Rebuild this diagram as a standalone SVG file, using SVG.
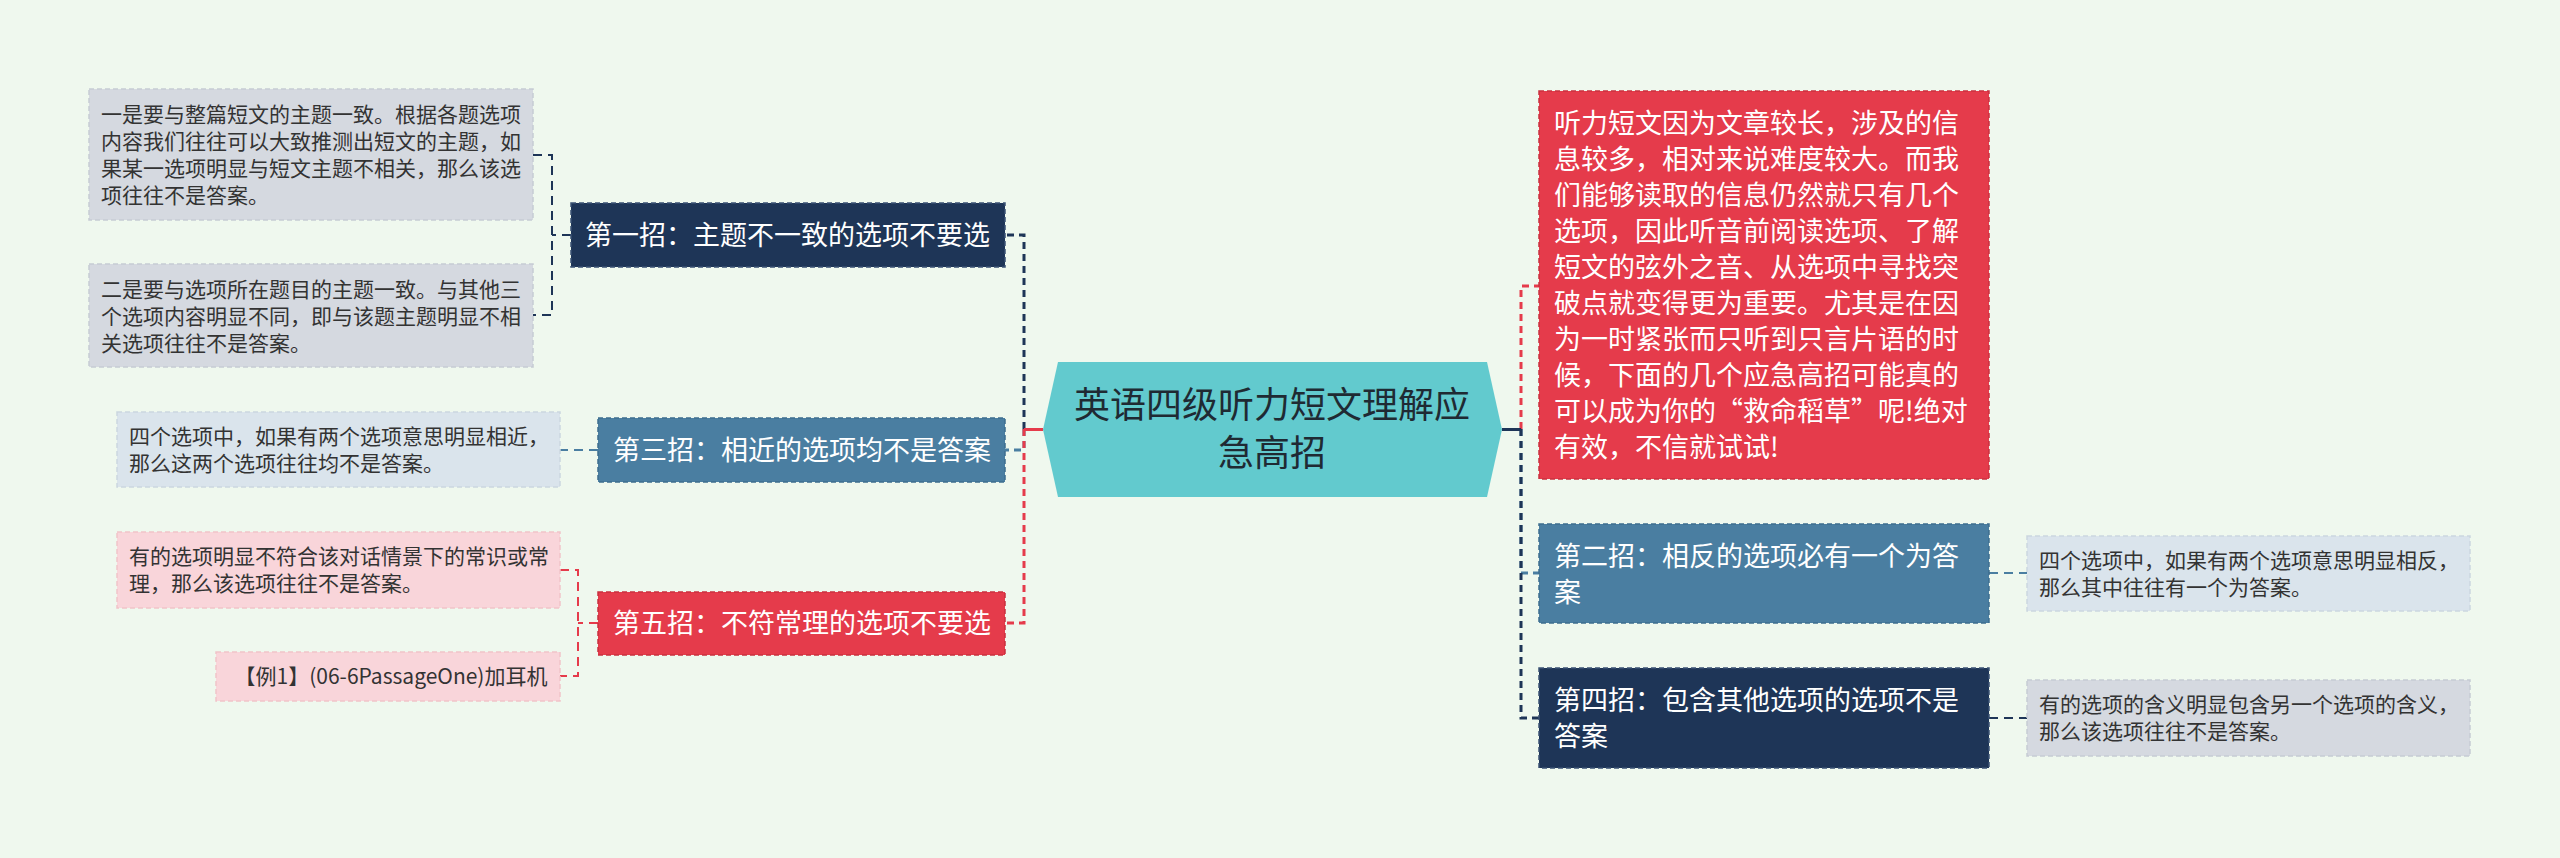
<svg xmlns="http://www.w3.org/2000/svg" width="2560" height="858" viewBox="0 0 2560 858">
<style>
text{font-family:"Noto Sans CJK SC","Microsoft YaHei",sans-serif}
.leaf{font-size:21px;fill:#333}
.node{font-size:27px;fill:#fff}
.main{font-size:36px;fill:#1f2a33}
.gray{fill:#D5D9E0;stroke:#C6CBD3;stroke-width:1.5;stroke-dasharray:5 3}
.lblue{fill:#DAE4EC;stroke:#CBD6DF;stroke-width:1.5;stroke-dasharray:5 3}
.pink{fill:#F9D5DA;stroke:#F1C3C9;stroke-width:1.5;stroke-dasharray:5 3}
.navy{fill:#1E3557;stroke:#3B5274;stroke-width:1.5;stroke-dasharray:5 3}
.steel{fill:#4A7EA1;stroke:#3E6E8F;stroke-width:1.5;stroke-dasharray:5 3}
.red{fill:#E53B4B;stroke:#C9303F;stroke-width:1.5;stroke-dasharray:5 3}
.c{fill:none;stroke-width:3;stroke-dasharray:7 5}
.cl{fill:none;stroke-width:2;stroke-dasharray:9 6}
.cn{stroke:#1E3557}.cs{stroke:#4A7EA1}.cr{stroke:#E53B4B}
</style>
<rect x="0" y="0" width="2560" height="858" fill="#EFF8EE"/>
<g id="connectors">
  <path class="c cn" d="M1024,429 V235 H1005"/>
  <path class="c cs" d="M1024,429 V450 H1005"/>
  <path class="c cr" d="M1024,429 V623 H1005"/>
  <line x1="1024" y1="429.5" x2="1043" y2="429.5" stroke="#E53B4B" stroke-width="3"/>
  <path class="c cr" d="M1521,429 V286 H1539"/>
  <path class="c cs" d="M1521,429 V573 H1539"/>
  <path class="c cn" d="M1521,429 V718 H1539"/>
  <line x1="1502" y1="429.5" x2="1521" y2="429.5" stroke="#1E3557" stroke-width="3"/>
  <path class="cl cn" d="M571,235 H552 M533,155 H552 V315 H533"/>
  <path class="cl cs" d="M598,450 H560"/>
  <path class="cl cr" d="M598,623 H578 M560,570 H578 V676 H560"/>
  <path class="cl cs" d="M1989,573 H2027"/>
  <path class="cl cn" d="M1989,718 H2027"/>
</g>
<g id="main">
  <polygon points="1058,362 1487,362 1502,429.5 1487,497 1058,497 1043,429.5" fill="#62CACE"/>
  <text class="main" x="1272" y="418" text-anchor="middle">英语四级听力短文理解应</text>
  <text class="main" x="1272" y="466" text-anchor="middle">急高招</text>
</g>
<g id="n1">
  <rect class="navy" x="571" y="203" width="434" height="64"/>
  <text class="node" x="585" y="245">第一招：主题不一致的选项不要选</text>
</g>
<g id="n1a">
  <rect class="gray" x="89" y="89" width="444" height="131"/>
  <text class="leaf" x="101" y="122">一是要与整篇短文的主题一致。根据各题选项</text>
  <text class="leaf" x="101" y="149">内容我们往往可以大致推测出短文的主题，如</text>
  <text class="leaf" x="101" y="176">果某一选项明显与短文主题不相关，那么该选</text>
  <text class="leaf" x="101" y="203">项往往不是答案。</text>
</g>
<g id="n1b">
  <rect class="gray" x="89" y="264" width="444" height="103"/>
  <text class="leaf" x="101" y="297">二是要与选项所在题目的主题一致。与其他三</text>
  <text class="leaf" x="101" y="324">个选项内容明显不同，即与该题主题明显不相</text>
  <text class="leaf" x="101" y="351">关选项往往不是答案。</text>
</g>
<g id="n3">
  <rect class="steel" x="598" y="418" width="407" height="64"/>
  <text class="node" x="613" y="460">第三招：相近的选项均不是答案</text>
</g>
<g id="n3a">
  <rect class="lblue" x="117" y="412" width="443" height="75"/>
  <text class="leaf" x="129" y="444">四个选项中，如果有两个选项意思明显相近，</text>
  <text class="leaf" x="129" y="471">那么这两个选项往往均不是答案。</text>
</g>
<g id="n5">
  <rect class="red" x="598" y="592" width="407" height="63"/>
  <text class="node" x="613" y="633">第五招：不符常理的选项不要选</text>
</g>
<g id="n5a">
  <rect class="pink" x="117" y="532" width="443" height="76"/>
  <text class="leaf" x="129" y="564">有的选项明显不符合该对话情景下的常识或常</text>
  <text class="leaf" x="129" y="591">理，那么该选项往往不是答案。</text>
</g>
<g id="n5b">
  <rect class="pink" x="216" y="652" width="344" height="49"/>
  <text class="leaf" x="391" y="684" text-anchor="middle">【例1】(06-6PassageOne)加耳机</text>
</g>
<g id="intro">
  <rect class="red" x="1539" y="91" width="450" height="388"/>
  <text class="node" x="1554" y="133">听力短文因为文章较长，涉及的信</text>
  <text class="node" x="1554" y="169">息较多，相对来说难度较大。而我</text>
  <text class="node" x="1554" y="205">们能够读取的信息仍然就只有几个</text>
  <text class="node" x="1554" y="241">选项，因此听音前阅读选项、了解</text>
  <text class="node" x="1554" y="277">短文的弦外之音、从选项中寻找突</text>
  <text class="node" x="1554" y="313">破点就变得更为重要。尤其是在因</text>
  <text class="node" x="1554" y="349">为一时紧张而只听到只言片语的时</text>
  <text class="node" x="1554" y="385">候，下面的几个应急高招可能真的</text>
  <text class="node" x="1554" y="421">可以成为你的“救命稻草”呢!绝对</text>
  <text class="node" x="1554" y="457">有效，不信就试试!</text>
</g>
<g id="n2">
  <rect class="steel" x="1539" y="524" width="450" height="99"/>
  <text class="node" x="1554" y="566">第二招：相反的选项必有一个为答</text>
  <text class="node" x="1554" y="602">案</text>
</g>
<g id="n2a">
  <rect class="lblue" x="2027" y="536" width="443" height="75"/>
  <text class="leaf" x="2039" y="568">四个选项中，如果有两个选项意思明显相反，</text>
  <text class="leaf" x="2039" y="595">那么其中往往有一个为答案。</text>
</g>
<g id="n4">
  <rect class="navy" x="1539" y="668" width="450" height="100"/>
  <text class="node" x="1554" y="710">第四招：包含其他选项的选项不是</text>
  <text class="node" x="1554" y="746">答案</text>
</g>
<g id="n4a">
  <rect class="gray" x="2027" y="680" width="443" height="76"/>
  <text class="leaf" x="2039" y="712">有的选项的含义明显包含另一个选项的含义，</text>
  <text class="leaf" x="2039" y="739">那么该选项往往不是答案。</text>
</g>
</svg>
